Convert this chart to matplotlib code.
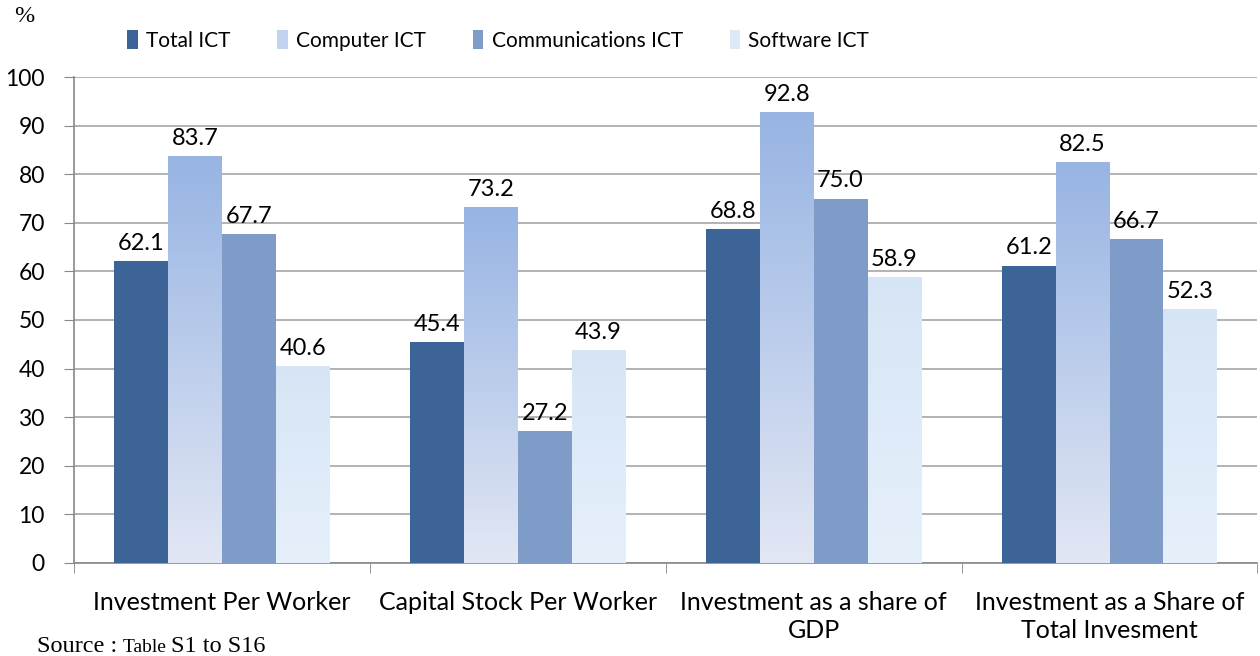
import numpy as np
import matplotlib.pyplot as plt
from matplotlib.colors import LinearSegmentedColormap

categories = ['Investment Per Worker', 'Capital Stock Per Worker',
              'Investment as a share of\nGDP', 'Investment as a Share of\nTotal Invesment']
series = ['Total ICT', 'Computer ICT', 'Communications ICT', 'Software ICT']
total_ict = [62.1, 45.4, 68.8, 61.2]
computer_ict = [83.7, 73.2, 92.8, 82.5]
communications_ict = [67.7, 27.2, 75.0, 66.7]
software_ict = [40.6, 43.9, 58.9, 52.3]
values = [total_ict, computer_ict, communications_ict, software_ict]
yticks = list(range(0, 101, 10))

plt.rcParams['font.family'] = ['Lato', 'DejaVu Sans']

fig = plt.figure(figsize=(12.6, 6.56), dpi=100)
ax = fig.add_axes([0.0587, 0.1418, 0.9393, 0.7408])

x = np.arange(len(categories))
w = 0.182
colors = ['#3d6496', '#a6bde6', '#7f9cc8', '#dceaf8']
grads = [None,
         LinearSegmentedColormap.from_list('comp', ['#e2e7f4', '#97b4e3']),
         None,
         LinearSegmentedColormap.from_list('soft', ['#e6f0fb', '#d6e5f5'])]

for i, (name, vals) in enumerate(zip(series, values)):
    pos = x + (i - 1.5) * w
    bars = ax.bar(pos, vals, w, color=colors[i], label=name, zorder=3, linewidth=0)
    if grads[i] is not None:
        for b in bars:
            x0, y0 = b.get_x(), b.get_y()
            x1, y1 = x0 + b.get_width(), y0 + b.get_height()
            grad = np.linspace(0, 1, 256).reshape(-1, 1)
            im = ax.imshow(grad, cmap=grads[i], origin='lower', aspect='auto',
                           extent=[x0, x1, y0, y1], zorder=3.5)
            im.set_clip_path(b)
    for p, v in zip(pos, vals):
        ax.annotate(f'{v:.1f}', (p, v), xytext=(0, 8), textcoords='offset points',
                    ha='center', va='baseline', fontsize=17, color='black', zorder=5)

ax.set_xlim(-0.5, len(categories) - 0.5)
ax.set_ylim(0, 100)
ax.set_yticks(yticks)
ax.tick_params(axis='y', labelsize=16.5, length=7, color='#888888', pad=14)
ax.set_xticks(x)
ax.set_xticklabels(categories, fontsize=18, linespacing=1.3)
ax.tick_params(axis='x', which='major', length=0, pad=20)
ax.set_xticks(np.arange(-0.5, len(categories)), minor=True)
ax.tick_params(axis='x', which='minor', length=7, color='#888888', direction='out')
ax.yaxis.grid(True, color='#a6a6a6', linewidth=1.2, zorder=0)
ax.set_axisbelow(True)
for s in ['top', 'right']:
    ax.spines[s].set_visible(False)
for s in ['left', 'bottom']:
    ax.spines[s].set_color('#888888')
    ax.spines[s].set_linewidth(1.2)

# legend
handles, labels = ax.get_legend_handles_labels()
leg = fig.legend(handles, labels, loc='center left', bbox_to_anchor=(0.101, 0.938),
                 ncol=4, frameon=False, fontsize=15, handlelength=0.5, handleheight=1.0,
                 handletextpad=0.4, columnspacing=2.25, borderaxespad=0, borderpad=0)
leg.legend_handles[1].set_color('#c3d2ee')

fig.text(0.011, 0.975, '%', fontsize=17.5, family='Liberation Serif', va='center')

# source line, pieces placed one after another
renderer = fig.canvas.get_renderer()
xpos = 37
for txt, size in [('Source : ', 17.5), ('Table ', 14), ('S1 to S16', 17.5)]:
    t = fig.text(xpos / 1260, 4 / 656, txt, fontsize=size, family='Liberation Serif',
                 va='baseline')
    xpos = t.get_window_extent(renderer).x1

fig.savefig('out.png', dpi=100)
